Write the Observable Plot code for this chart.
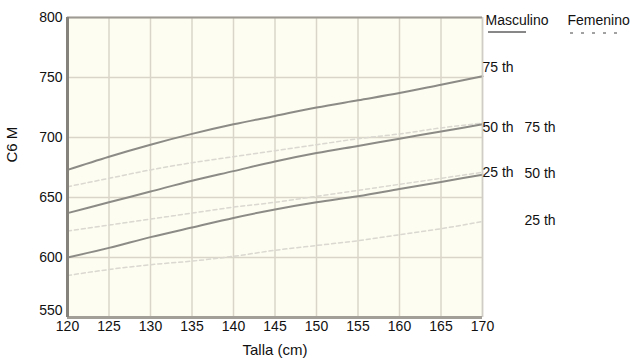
<!DOCTYPE html>
<html>
<head>
<meta charset="utf-8">
<script src="https://cdn.jsdelivr.net/npm/d3@7"></script>
<script src="https://cdn.jsdelivr.net/npm/@observablehq/plot@0.6"></script>
<style>
  html, body { margin: 0; padding: 0; background: #ffffff; }
  #chart svg { display: block; font-family: "Liberation Sans", Arial, sans-serif; }
</style>
</head>
<body>
<div id="chart"></div>
<script>
// Talla (cm)
const talla = [120, 125, 130, 135, 140, 145, 150, 155, 160, 165, 170];
// Masculino percentiles (C6 M)
const masc75 = [673, 684, 694, 703, 711, 718, 725, 731, 737, 744, 751];
const masc50 = [637, 646, 655, 664, 672, 680, 687, 693, 699, 705, 711];
const masc25 = [600, 608, 617, 625, 633, 640, 646, 651, 657, 663, 669];
// Femenino percentiles (C6 M)
const fem75 = [659, 666, 673, 679, 684, 689, 694, 699, 703, 708, 712];
const fem50 = [622, 627, 632, 637, 642, 646, 651, 656, 661, 666, 671];
const fem25 = [585, 590, 594, 597, 601, 606, 610, 614, 619, 624, 630];
// tick labels
const xTicks = [120, 125, 130, 135, 140, 145, 150, 155, 160, 165, 170];
const yTicks = [550, 600, 650, 700, 750, 800];

const series = [
  {sexo: "Masculino", pct: "75 th", values: masc75},
  {sexo: "Masculino", pct: "50 th", values: masc50},
  {sexo: "Masculino", pct: "25 th", values: masc25},
  {sexo: "Femenino", pct: "75 th", values: fem75},
  {sexo: "Femenino", pct: "50 th", values: fem50},
  {sexo: "Femenino", pct: "25 th", values: fem25}
];
const rows = series.flatMap(s => s.values.map((v, i) => ({sexo: s.sexo, pct: s.pct, key: s.sexo + s.pct, talla: talla[i], c6m: v})));
const male = rows.filter(d => d.sexo === "Masculino");
const female = rows.filter(d => d.sexo === "Femenino");
const lastOf = (s) => ({talla: talla[talla.length - 1], c6m: s.values[s.values.length - 1], label: s.pct});

const labelMark = (s, dx, dy) => Plot.text([lastOf(s)], {
  x: "talla", y: "c6m", text: "label", textAnchor: "start", dx, dy,
  fontSize: 14, fill: "#111"
});

const plot = Plot.plot({
  width: 638,
  height: 363,
  marginLeft: 67,
  marginRight: 156,
  marginTop: 17,
  marginBottom: 46,
  style: {fontFamily: "Liberation Sans, Arial, sans-serif", fontSize: "14px", color: "#111", background: "#ffffff"},
  x: {domain: [120, 170], ticks: xTicks, tickSize: 0, tickPadding: 5, label: null},
  y: {domain: [550, 800], ticks: yTicks, tickSize: 0, tickPadding: 5, label: null},
  marks: [
    Plot.frame({fill: "#fdfdf1", stroke: null}),
    Plot.gridX(xTicks, {stroke: "#d9d5c8", strokeOpacity: 1, strokeWidth: 1.5}),
    Plot.gridY(yTicks, {stroke: "#d9d5c8", strokeOpacity: 1, strokeWidth: 1.5}),
    Plot.line(female, {x: "talla", y: "c6m", z: "key", curve: "monotone-x", stroke: "#dad8d0", strokeWidth: 1.5, strokeDasharray: "4,3"}),
    Plot.line(male, {x: "talla", y: "c6m", z: "key", curve: "monotone-x", stroke: "#8c8b86", strokeWidth: 2}),
    Plot.ruleX([170], {stroke: "#cfcdc6", strokeWidth: 1.5}),
    Plot.ruleY([800], {stroke: "#9d9a94", strokeWidth: 2}),
    Plot.ruleY([550], {stroke: "#a29f98", strokeWidth: 3}),
    Plot.ruleX([120], {stroke: "#85827c", strokeWidth: 3}),
    Plot.axisX(xTicks, {tickSize: 0, tickPadding: 4, fontSize: 14, label: null}),
    Plot.axisY(yTicks.slice(1), {tickSize: 0, tickPadding: 5, fontSize: 14, label: null}),
    Plot.axisY(yTicks.slice(0, 1), {tickSize: 0, tickPadding: 5, fontSize: 14, label: null, dy: -7}),
    Plot.text(["C6 M"], {frameAnchor: "left", dx: -55, dy: -5, rotate: -90, fontSize: 15, fill: "#111"}),
    Plot.text(["Talla (cm)"], {frameAnchor: "bottom", dy: 37, fontSize: 15, fill: "#111"}),
    Plot.text(["Masculino"], {x: 170, frameAnchor: "top", lineAnchor: "middle", textAnchor: "start", dx: 3, dy: 3, fontSize: 14, fill: "#111"}),
    Plot.text(["Femenino"], {x: 170, frameAnchor: "top", lineAnchor: "middle", textAnchor: "start", dx: 85, dy: 3, fontSize: 14, fill: "#111"}),
    labelMark(series[0], 0, -9),
    labelMark(series[1], 0, 3),
    labelMark(series[2], 0, -2),
    labelMark(series[3], 42, 4),
    labelMark(series[4], 42, 1),
    labelMark(series[5], 42, -1)
  ]
});

// legend swatches under "Masculino" and "Femenino", positioned from the x scale
const xs = plot.scale("x");
const x0 = xs.apply(170);
const svg = d3.select(plot);
svg.append("line")
  .attr("x1", x0 + 6).attr("x2", x0 + 44)
  .attr("y1", 32).attr("y2", 32)
  .attr("stroke", "#111").attr("stroke-width", 1);
svg.append("line")
  .attr("x1", x0 + 88).attr("x2", x0 + 140)
  .attr("y1", 33).attr("y2", 33)
  .attr("stroke", "#444").attr("stroke-width", 1)
  .attr("stroke-dasharray", "3,8");

document.getElementById("chart").appendChild(plot);
</script>
</body>
</html>
